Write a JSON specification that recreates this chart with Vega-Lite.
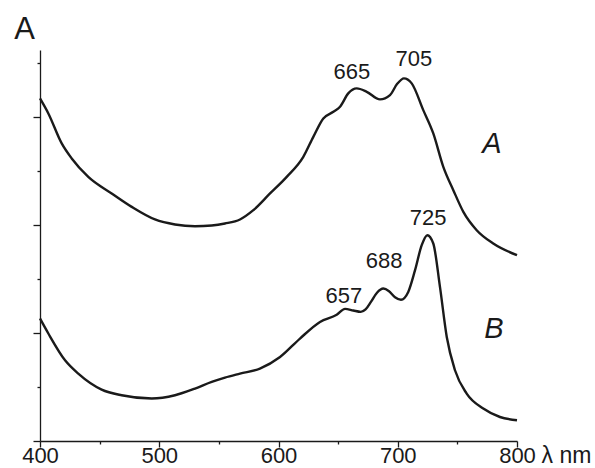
{
  "$schema": "https://vega.github.io/schema/vega-lite/v6.json",
  "width": 477,
  "height": 391,
  "autosize": {"type": "none"},
  "padding": {"left": 40, "top": 50, "right": 78, "bottom": 27},
  "background": "white",
  "config": {"view": {"stroke": null}, "font": "Liberation Sans"},
  "datasets": {
    "curves": [
      {"series": "A", "wl": 400, "abs": 6.352},
      {"series": "A", "wl": 407.0, "abs": 6.074},
      {"series": "A", "wl": 418.2, "abs": 5.518},
      {"series": "A", "wl": 426.6, "abs": 5.239},
      {"series": "A", "wl": 440.5, "abs": 4.898},
      {"series": "A", "wl": 460.1, "abs": 4.590},
      {"series": "A", "wl": 476.9, "abs": 4.341},
      {"series": "A", "wl": 496.4, "abs": 4.108},
      {"series": "A", "wl": 513.2, "abs": 4.015},
      {"series": "A", "wl": 530.0, "abs": 3.983},
      {"series": "A", "wl": 544.0, "abs": 3.996},
      {"series": "A", "wl": 555.1, "abs": 4.033},
      {"series": "A", "wl": 567.7, "abs": 4.108},
      {"series": "A", "wl": 578.9, "abs": 4.280},
      {"series": "A", "wl": 592.9, "abs": 4.590},
      {"series": "A", "wl": 606.9, "abs": 4.898},
      {"series": "A", "wl": 620.8, "abs": 5.269},
      {"series": "A", "wl": 629.2, "abs": 5.640},
      {"series": "A", "wl": 637.6, "abs": 5.981},
      {"series": "A", "wl": 646.0, "abs": 6.104},
      {"series": "A", "wl": 651.6, "abs": 6.197},
      {"series": "A", "wl": 658.5, "abs": 6.445},
      {"series": "A", "wl": 665.6, "abs": 6.538},
      {"series": "A", "wl": 674.0, "abs": 6.475},
      {"series": "A", "wl": 685.1, "abs": 6.334},
      {"series": "A", "wl": 693.5, "abs": 6.414},
      {"series": "A", "wl": 699.4, "abs": 6.618},
      {"series": "A", "wl": 705.2, "abs": 6.724},
      {"series": "A", "wl": 711.7, "abs": 6.631},
      {"series": "A", "wl": 721.4, "abs": 6.135},
      {"series": "A", "wl": 729.8, "abs": 5.703},
      {"series": "A", "wl": 738.2, "abs": 5.083},
      {"series": "A", "wl": 746.6, "abs": 4.651},
      {"series": "A", "wl": 755.0, "abs": 4.249},
      {"series": "A", "wl": 766.2, "abs": 3.909},
      {"series": "A", "wl": 780.1, "abs": 3.662},
      {"series": "A", "wl": 800.0, "abs": 3.445},
      {"series": "B", "wl": 400, "abs": 2.271},
      {"series": "B", "wl": 407.0, "abs": 1.993},
      {"series": "B", "wl": 421.0, "abs": 1.497},
      {"series": "B", "wl": 432.1, "abs": 1.250},
      {"series": "B", "wl": 451.7, "abs": 0.954},
      {"series": "B", "wl": 468.5, "abs": 0.848},
      {"series": "B", "wl": 493.7, "abs": 0.787},
      {"series": "B", "wl": 513.2, "abs": 0.848},
      {"series": "B", "wl": 530.0, "abs": 0.972},
      {"series": "B", "wl": 544.0, "abs": 1.095},
      {"series": "B", "wl": 555.1, "abs": 1.176},
      {"series": "B", "wl": 567.7, "abs": 1.250},
      {"series": "B", "wl": 584.4, "abs": 1.343},
      {"series": "B", "wl": 601.3, "abs": 1.558},
      {"series": "B", "wl": 618.0, "abs": 1.900},
      {"series": "B", "wl": 634.8, "abs": 2.208},
      {"series": "B", "wl": 648.8, "abs": 2.340},
      {"series": "B", "wl": 655.8, "abs": 2.450},
      {"series": "B", "wl": 662.7, "abs": 2.420},
      {"series": "B", "wl": 669.0, "abs": 2.395},
      {"series": "B", "wl": 673.0, "abs": 2.440},
      {"series": "B", "wl": 677.5, "abs": 2.580},
      {"series": "B", "wl": 682.6, "abs": 2.750},
      {"series": "B", "wl": 687.9, "abs": 2.827},
      {"series": "B", "wl": 692.7, "abs": 2.777},
      {"series": "B", "wl": 697.7, "abs": 2.666},
      {"series": "B", "wl": 702.7, "abs": 2.620},
      {"series": "B", "wl": 708.8, "abs": 2.764},
      {"series": "B", "wl": 714.5, "abs": 3.167},
      {"series": "B", "wl": 720.1, "abs": 3.631},
      {"series": "B", "wl": 724.8, "abs": 3.816},
      {"series": "B", "wl": 729.8, "abs": 3.662},
      {"series": "B", "wl": 735.4, "abs": 2.857},
      {"series": "B", "wl": 741.1, "abs": 1.929},
      {"series": "B", "wl": 748.0, "abs": 1.312},
      {"series": "B", "wl": 757.8, "abs": 0.879},
      {"series": "B", "wl": 771.7, "abs": 0.601},
      {"series": "B", "wl": 785.7, "abs": 0.445},
      {"series": "B", "wl": 800.0, "abs": 0.384}
    ],
    "peaks": [
      {"label": "665", "wl": 661.6, "abs": 6.711},
      {"label": "705", "wl": 713.6, "abs": 6.952},
      {"label": "725", "wl": 725.4, "abs": 4.002},
      {"label": "688", "wl": 688.5, "abs": 3.204},
      {"label": "657", "wl": 654.9, "abs": 2.568}
    ],
    "names": [
      {"label": "A", "wl": 779.0, "abs": 5.338},
      {"label": "B", "wl": 780.7, "abs": 1.905}
    ]
  },
  "layer": [
    {
      "data": {"name": "curves"},
      "mark": {"type": "line", "interpolate": "monotone", "strokeWidth": 2.4, "color": "#1a1a1a"},
      "encoding": {
        "x": {
          "field": "wl", "type": "quantitative",
          "scale": {"domain": [400, 800], "nice": false},
          "axis": {
            "values": [400, 450, 500, 550, 600, 650, 700, 750, 800],
            "tickSize": {"condition": {"test": "datum.value % 100 === 0", "value": 6}, "value": 3},
            "labelExpr": "datum.value % 100 === 0 ? datum.label : ''",
            "labelFontSize": 22, "labelColor": "#1a1a1a", "labelBaseline": "alphabetic", "labelPadding": 15,
            "labelFlush": false, "labelOverlap": false,
            "title": "λ nm", "titleX": 501, "titleY": 21, "titleAlign": "left", "titleBaseline": "alphabetic",
            "titleFontSize": 23, "titleFontWeight": "normal", "titleColor": "#1a1a1a",
            "domainColor": "#1a1a1a", "domainWidth": 1.3, "tickColor": "#1a1a1a", "tickWidth": 1.3, "grid": false
          }
        },
        "y": {
          "field": "abs", "type": "quantitative",
          "scale": {"domain": [0, 7.25], "nice": false},
          "axis": {
            "values": [0, 1, 2, 3, 4, 5, 6, 7],
            "tickSize": {"condition": {"test": "datum.value % 2 === 0", "value": 7}, "value": 3},
            "labels": false,
            "title": "A", "titleAngle": 0, "titleX": -16, "titleY": -12, "titleAlign": "center", "titleBaseline": "alphabetic",
            "titleFontSize": 31, "titleFontWeight": "normal", "titleColor": "#1a1a1a",
            "domainColor": "#1a1a1a", "domainWidth": 1.3, "tickColor": "#1a1a1a", "tickWidth": 1.3, "grid": false
          }
        },
        "detail": {"field": "series"}
      }
    },
    {
      "data": {"name": "peaks"},
      "mark": {"type": "text", "fontSize": 22, "align": "center", "baseline": "alphabetic", "color": "#1a1a1a"},
      "encoding": {
        "x": {"field": "wl", "type": "quantitative"},
        "y": {"field": "abs", "type": "quantitative"},
        "text": {"field": "label"}
      }
    },
    {
      "data": {"name": "names"},
      "mark": {"type": "text", "fontSize": 29, "fontStyle": "italic", "align": "center", "baseline": "alphabetic", "color": "#1a1a1a"},
      "encoding": {
        "x": {"field": "wl", "type": "quantitative"},
        "y": {"field": "abs", "type": "quantitative"},
        "text": {"field": "label"}
      }
    }
  ]
}
